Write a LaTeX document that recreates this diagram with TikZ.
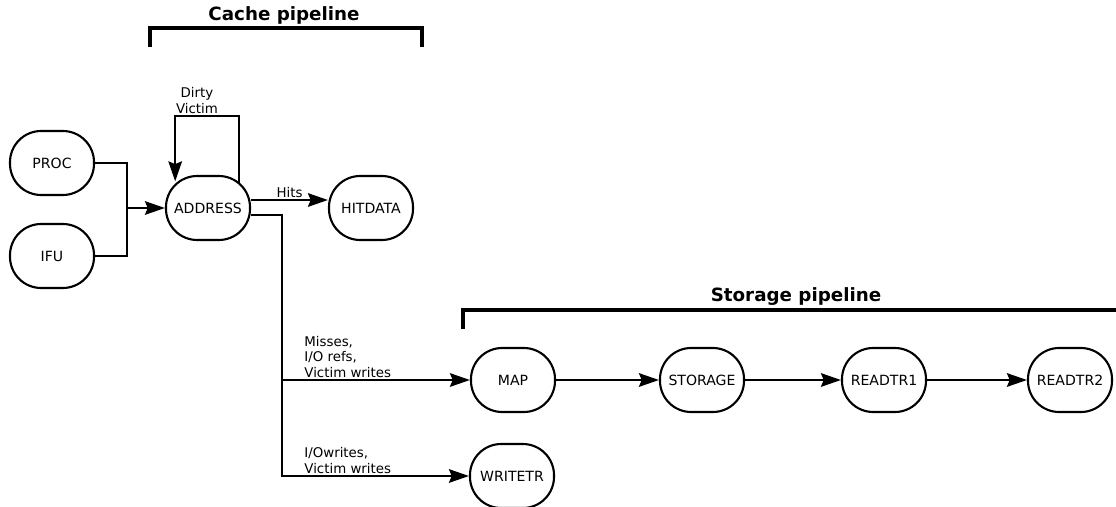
\documentclass[tikz,border=0pt]{standalone}
\usepackage{fontspec}
\setmainfont{DejaVu Sans}
\usetikzlibrary{arrows.meta}

\tikzset{
  stage/.style={draw, line width=1.5pt, rounded corners=0.78cm, minimum width=2.1cm, minimum height=1.6cm, inner sep=0pt, font=\fontsize{10}{12}\selectfont},
  flow/.style={line width=1.4pt},
  arr/.style={flow, -{Stealth[length=0.5cm,width=0.34cm,inset=0.07cm]}},
  lbl/.style={font=\fontsize{9.5}{11}\selectfont, inner sep=1pt},
  bracket/.style={line width=2.4pt},
  title/.style={font=\bfseries\fontsize{13}{15}\selectfont}
}

\begin{document}
\begin{tikzpicture}[x=0.025cm, y=-0.025cm]
			\useasboundingbox (0,0) rectangle (1116,506);
			%%%%% START %%%%%
			
			\draw[bracket] (150,47) -- (150,28) -- (422,28) -- (422,47);
			\node[title] (cachetitle) at (284,15) {Cache pipeline};
			
			\draw[bracket] (463,329) -- (463,310) -- (1116,310);
			\node[title] (storagetitle) at (796,297) {Storage pipeline};
			
			\node[stage] (proc) at (52,163) {PROC};
			\node[stage] (ifu) at (52,256) {IFU};
			\node[stage] (address) at (208,208) {ADDRESS};
			\node[stage] (hitdata) at (371,208) {HITDATA};
			
			\node[stage] (map) at (513,380) {MAP};
			\node[stage] (storage) at (702,380) {STORAGE};
			\node[stage] (readtr1) at (884,380) {READTR1};
			\node[stage] (readtr2) at (1070,380) {READTR2};
			\node[stage] (writetr) at (512,476) {WRITETR};
			
			\coordinate (merge) at (127,208);
			\coordinate (trunk) at (282,0);
			\coordinate (looptop) at (197,116);
			
			\draw[flow] (proc.east) -| (merge) |- (ifu.east);
			\draw[arr] (merge) -- (address.west);
			
			\draw[arr] ([xshift=0.78cm,yshift=-0.22cm]address.north) |- (looptop) node[lbl, above, align=center] {Dirty\\Victim} -| ([xshift=-0.82cm,yshift=-0.16cm]address.north);
			
			\draw[arr] ([yshift=0.2cm]address.east) -- node[lbl, above] {Hits} ([yshift=0.2cm]hitdata.west);
			
			\draw[arr] ([yshift=-0.18cm]address.east) -| (trunk |- writetr.west) -- node[lbl, pos=0, anchor=south west, xshift=0.5cm, align=left] {I/Owrites,\\Victim writes} (writetr.west);
			\draw[arr] (trunk |- map.west) -- node[lbl, pos=0, anchor=south west, xshift=0.5cm, align=left] {Misses,\\I/O refs,\\Victim writes} (map.west);
			
			\foreach \a/\b in {map/storage, storage/readtr1, readtr1/readtr2}
				\draw[arr] (\a) -- (\b);
			
			%%%%% END %%%%%
\end{tikzpicture}
\end{document}
